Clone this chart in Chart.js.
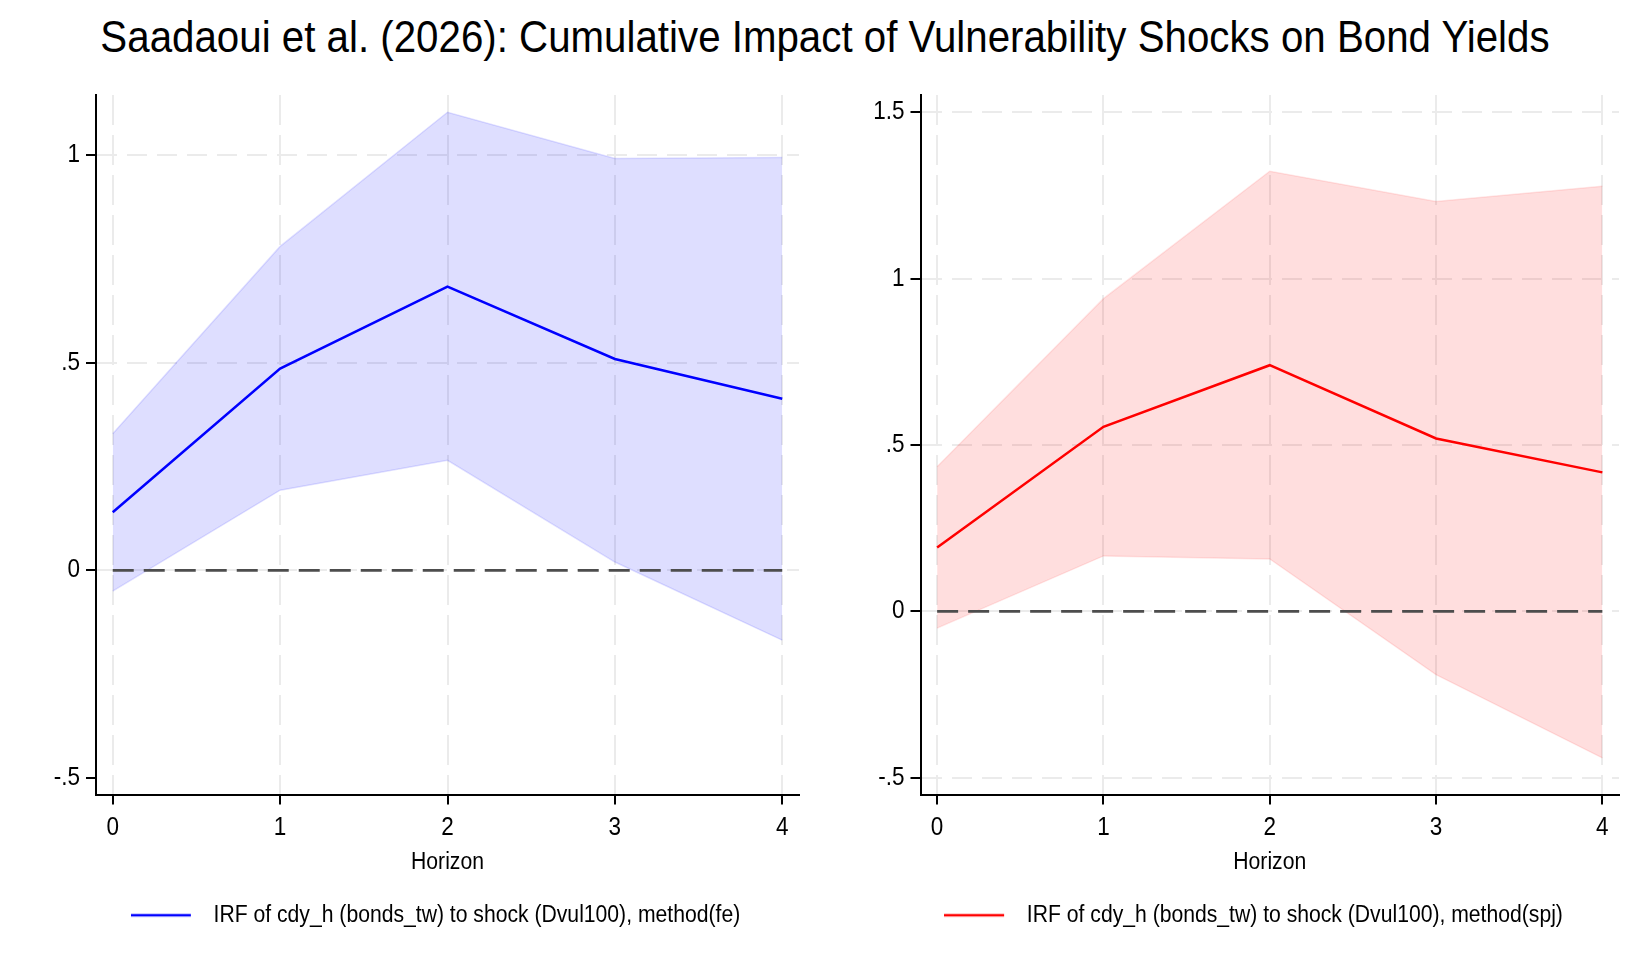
<!DOCTYPE html>
<html>
<head>
<meta charset="utf-8">
<script src="https://cdn.jsdelivr.net/npm/chart.js@4.4.0/dist/chart.umd.min.js"></script>
<style>
  html, body { margin: 0; padding: 0; background: #fff; }
  body { width: 1650px; height: 978px; position: relative; overflow: hidden; }
  #title {
    position: absolute; left: 0; top: 14px; width: 1650px; text-align: center;
    font-family: "Liberation Sans", Arial, sans-serif;
    font-size: 45px; line-height: 45px; color: #000; white-space: nowrap;
    transform: scaleX(0.895); transform-origin: 50% 50%;
  }
  .panel { position: absolute; top: 0; height: 978px; }
</style>
</head>
<body>
<div id="title">Saadaoui et al. (2026): Cumulative Impact of Vulnerability Shocks on Bond Yields</div>
<div class="panel" style="left:0;width:871px"><canvas id="feChart"></canvas></div>
<div class="panel" style="left:866px;width:775px"><canvas id="spjChart"></canvas></div>
<script>
// horizons on the x axis
const horizon = [0, 1, 2, 3, 4];
const zeroLine = [0, 0, 0, 0, 0];

// method(fe): irf and confidence band
const feIrf   = [0.140, 0.486, 0.683, 0.509, 0.413];
const feUpper = [0.329, 0.780, 1.103, 0.992, 0.994];
const feLower = [-0.050, 0.193, 0.265, 0.020, -0.168];

// method(spj)
const spjIrf   = [0.192, 0.555, 0.740, 0.520, 0.418];
const spjUpper = [0.435, 0.940, 1.323, 1.232, 1.278];
const spjLower = [-0.050, 0.167, 0.158, -0.190, -0.440];

// y tick labels
const feTicks  = [-0.5, 0, 0.5, 1];
const spjTicks = [-0.5, 0, 0.5, 1, 1.5];
// ticks that get a horizontal grid line
const feGrid  = [0, 0.5, 1];
const spjGrid = [-0.5, 0, 0.5, 1, 1.5];

const FONT = '"Liberation Sans", Arial, sans-serif';
const NARROW = 0.9; // stata text is a bit condensed

function pts(arr) {
  return horizon.map((h, i) => ({ x: h, y: arr[i] }));
}

// stata style labels: .5, -.5
function stataNum(v) {
  let s = String(Math.round(v * 100) / 100);
  return s.replace(/^0\./, '.').replace(/^-0\./, '-.');
}

// squeeze canvas text horizontally (uses fillText maxWidth)
function condense(ctx) {
  const measure = ctx.measureText.bind(ctx);
  const fill = ctx.fillText.bind(ctx);
  ctx.measureText = function(t) {
    const m = measure(t);
    return {
      width: m.width * NARROW,
      actualBoundingBoxLeft: m.actualBoundingBoxLeft * NARROW,
      actualBoundingBoxRight: m.actualBoundingBoxRight * NARROW,
      actualBoundingBoxAscent: m.actualBoundingBoxAscent,
      actualBoundingBoxDescent: m.actualBoundingBoxDescent,
      fontBoundingBoxAscent: m.fontBoundingBoxAscent,
      fontBoundingBoxDescent: m.fontBoundingBoxDescent
    };
  };
  ctx.fillText = function(t, x, y, maxW) {
    let w = measure(t).width * NARROW;
    if (maxW !== undefined && maxW < w) w = maxW;
    fill(t, x, y, w);
  };
}

// legend key: a short line followed by some space
function legendKey(color) {
  const c = document.createElement('canvas');
  c.width = 71; c.height = 6;
  const g = c.getContext('2d');
  g.strokeStyle = color; g.lineWidth = 2.7;
  g.beginPath(); g.moveTo(0, 3); g.lineTo(60, 3); g.stroke();
  return c;
}

function makeChart(id, cfg) {
  const ctx = document.getElementById(id).getContext('2d');
  condense(ctx);
  return new Chart(ctx, {
    type: 'line',
    data: {
      datasets: [
        {
          label: cfg.label,
          data: pts(cfg.irf),
          borderColor: cfg.color,
          borderWidth: 2.5,
          pointRadius: 0,
          fill: false,
          tension: 0
        },
        {
          label: 'zero',
          data: pts(zeroLine),
          borderColor: '#4d4d4d',
          borderWidth: 2.8,
          borderDash: [21, 10],
          pointRadius: 0,
          fill: false
        },
        {
          label: 'upper',
          data: pts(cfg.upper),
          borderColor: cfg.edge,
          backgroundColor: cfg.band,
          borderWidth: 1.5,
          pointRadius: 0,
          fill: '+1'
        },
        {
          label: 'lower',
          data: pts(cfg.lower),
          borderColor: cfg.edge,
          borderWidth: 1.5,
          pointRadius: 0,
          fill: false
        }
      ]
    },
    options: {
      responsive: true,
      maintainAspectRatio: false,
      animation: false,
      events: [],
      layout: { padding: { left: 0, right: 0, top: 95, bottom: 41 } },
      plugins: {
        tooltip: { enabled: false },
        legend: {
          position: 'bottom',
          labels: {
            filter: item => item.datasetIndex === 0,
            usePointStyle: true,
            pointStyle: legendKey(cfg.color),
            pointStyleWidth: 71,
            color: '#000',
            font: { family: FONT, size: 23.5 }
          }
        }
      },
      scales: {
        x: {
          type: 'linear',
          min: -0.1,
          max: 4.1,
          afterBuildTicks: axis => { axis.ticks = horizon.map(v => ({ value: v })); },
          afterFit: axis => { axis.height = 99; },
          ticks: { color: '#000', font: { family: FONT, size: 25 }, padding: 9, maxRotation: 0 },
          grid: { color: '#ebebeb', lineWidth: 2, tickColor: '#000', tickWidth: 2, tickLength: 10 },
          border: { display: true, color: '#000', width: 2, dash: [30, 10] },
          title: { display: true, text: 'Horizon', color: '#000', font: { family: FONT, size: 23.5 }, padding: { top: 4, bottom: 17 } }
        },
        y: {
          type: 'linear',
          min: cfg.yMin,
          max: cfg.yMax,
          afterBuildTicks: axis => { axis.ticks = cfg.ticks.map(v => ({ value: v })); },
          afterFit: axis => { axis.width = cfg.yWidth; },
          ticks: { color: '#000', font: { family: FONT, size: 25 }, padding: 6, callback: v => stataNum(v) },
          grid: {
            color: c => (c.tick && cfg.grid.includes(c.tick.value)) ? '#ebebeb' : 'rgba(0,0,0,0)',
            lineWidth: 2, tickColor: '#000', tickWidth: 2, tickLength: 10
          },
          border: { display: true, color: '#000', width: 2, dash: [20, 10] }
        },
        // empty margin on the right so the legend stays centred on the panel
        yRight: {
          type: 'linear',
          position: 'right',
          afterFit: axis => { axis.width = cfg.padRight; },
          ticks: { display: false },
          grid: { display: false, drawOnChartArea: false },
          border: { display: false }
        }
      }
    }
  });
}

makeChart('feChart', {
  label: 'IRF of cdy_h (bonds_tw) to shock (Dvul100), method(fe)',
  irf: feIrf, upper: feUpper, lower: feLower,
  color: '#0000ff', band: 'rgba(0,0,255,0.13)', edge: 'rgba(0,0,255,0.12)',
  ticks: feTicks, grid: feGrid,
  yMin: -0.5397, yMax: 1.1446,
  yWidth: 96, padRight: 72
});

makeChart('spjChart', {
  label: 'IRF of cdy_h (bonds_tw) to shock (Dvul100), method(spj)',
  irf: spjIrf, upper: spjUpper, lower: spjLower,
  color: '#ff0000', band: 'rgba(255,0,0,0.13)', edge: 'rgba(255,0,0,0.10)',
  ticks: spjTicks, grid: spjGrid,
  yMin: -0.55, yMax: 1.552,
  yWidth: 54.5, padRight: 22
});
</script>
</body>
</html>
